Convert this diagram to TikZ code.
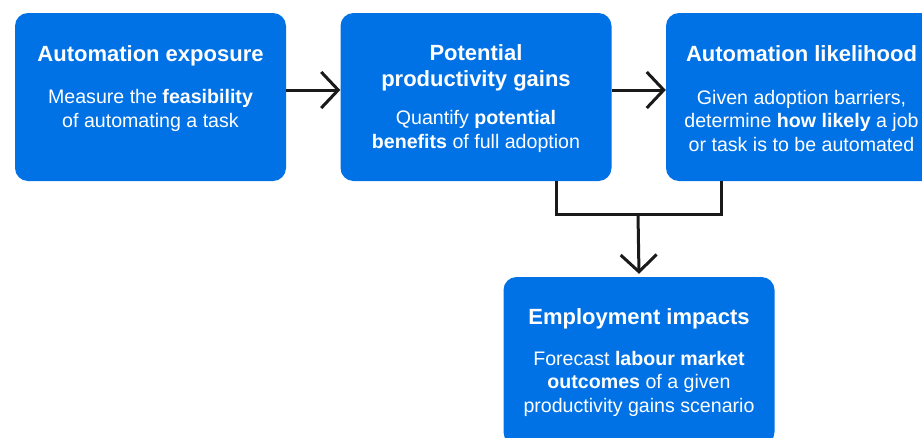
\documentclass[tikz,border=0pt]{standalone}
\usepackage{fontspec}
\setmainfont{Liberation Sans}
\usetikzlibrary{arrows.meta}
\definecolor{boxblue}{HTML}{0072E5}
\definecolor{linegray}{HTML}{1A1A1A}
\tikzset{
  box/.style={fill=boxblue, rounded corners=13pt, minimum width=271pt, minimum height=168pt, inner sep=0pt, draw=none},
  ttl/.style={text=white, font=\fontsize{22}{26}\selectfont\bfseries, align=center, inner sep=0pt},
  bdy/.style={text=white, font=\fontsize{19.6}{23.5}\selectfont, align=center, inner sep=0pt},
  conn/.style={draw=linegray, line width=3pt},
  tip/.style={-{Straight Barb[length=17pt,width=36pt]}},
}
\begin{document}
\begin{tikzpicture}[x=1pt,y=-1pt]
\useasboundingbox (0,0) rectangle (922,437);
\node[box] (b1) at (150.5,97) {};
\node[box] (b2) at (476,97) {};
\node[box] (b3) at (801.5,97) {};
\node[box] (b4) at (639,361) {};
\node[ttl] (t1) at (150.5,55.5) {Automation exposure};
\node[bdy] (d1) at (150.5,110.5) {Measure the \textbf{feasibility}\\of automating a task};
\node[ttl] (t2) at (476,67.5) {Potential\\productivity gains};
\node[bdy] (d2) at (476,131.5) {Quantify \textbf{potential}\\\textbf{benefits} of full adoption};
\node[ttl] (t3) at (801.5,54) {Automation likelihood};
\node[bdy] (d3) at (801.5,120.5) {Given adoption barriers,\\determine \textbf{how likely} a job\\or task is to be automated};
\node[ttl] (t4) at (639,318.5) {Employment impacts};
\node[bdy] (d4) at (639,383.5) {Forecast \textbf{labour market}\\\textbf{outcomes} of a given\\productivity gains scenario};
\coordinate (j) at (638,214);
\draw[conn,tip] (b1.east |- 0,90) -- (b2.west |- 0,90);
\draw[conn,tip] (b2.east |- 0,90) -- (b3.west |- 0,90);
\draw[conn] ([xshift=80]b2.south) |- (j) -| ([xshift=-80.5]b3.south);
\draw[conn,tip] (j) -- ([yshift=3]b4.north);
\end{tikzpicture}
\end{document}
